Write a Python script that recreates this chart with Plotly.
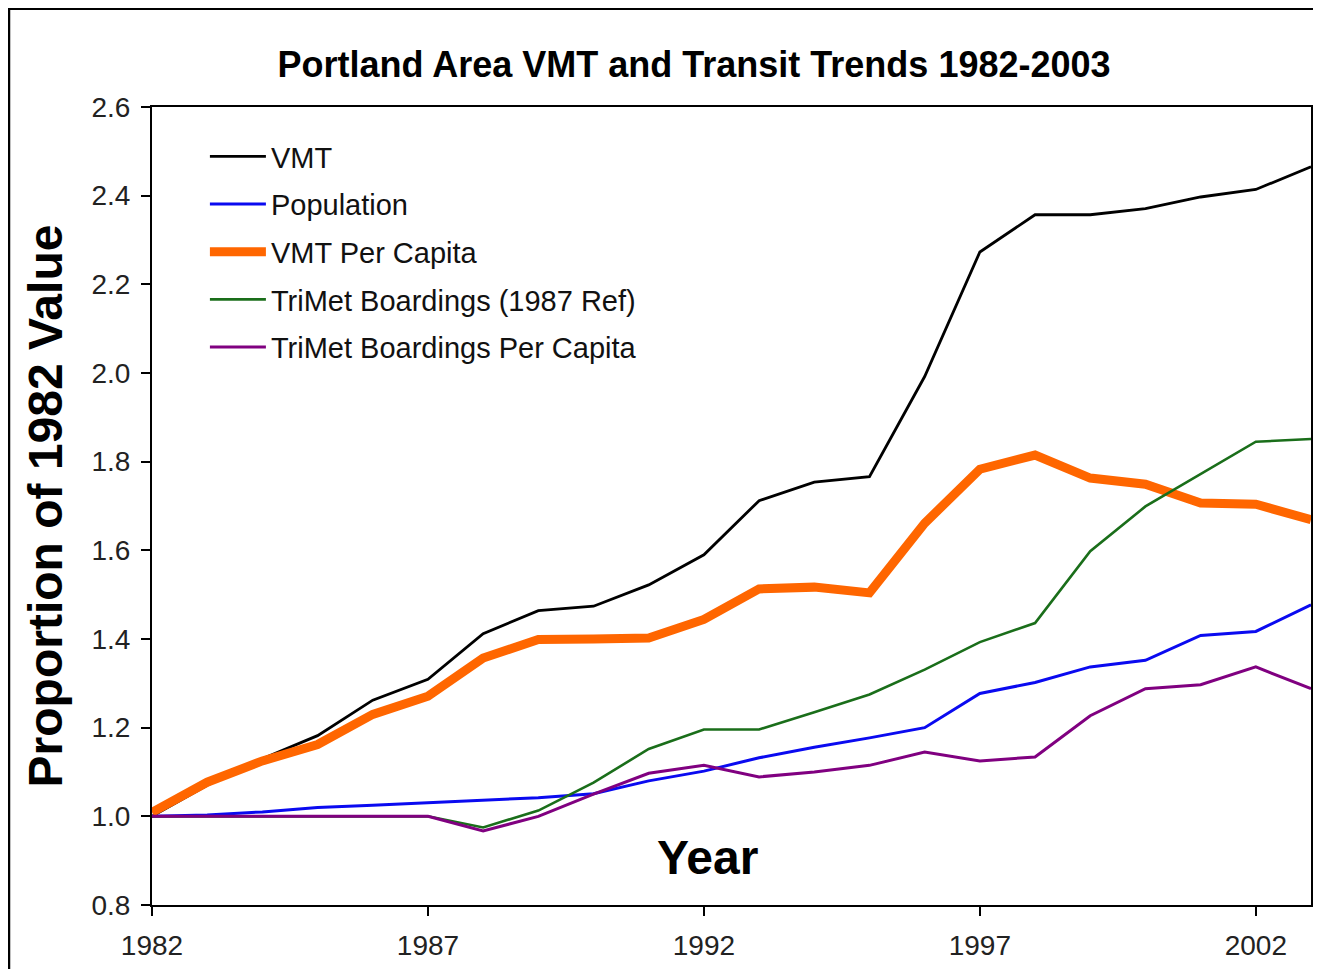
import plotly.graph_objects as go

years = list(range(1982, 2004))

vmt = [1.00, 1.07, 1.13, 1.182, 1.262, 1.309, 1.412, 1.464, 1.474, 1.522, 1.590,
       1.712, 1.754, 1.766, 1.992, 2.273, 2.357, 2.357, 2.371, 2.397, 2.414, 2.465]
population = [1.00, 1.003, 1.010, 1.020, 1.025, 1.031, 1.036, 1.042, 1.051, 1.080, 1.102,
              1.132, 1.156, 1.177, 1.200, 1.277, 1.302, 1.337, 1.352, 1.408, 1.417, 1.477]
vmt_per_capita = [1.009, 1.077, 1.125, 1.162, 1.230, 1.271, 1.357, 1.399, 1.400, 1.402, 1.444,
                  1.513, 1.517, 1.504, 1.661, 1.783, 1.815, 1.763, 1.749, 1.707, 1.704, 1.669]
trimet = [1.00, 1.00, 1.00, 1.00, 1.00, 1.00, 0.975, 1.013, 1.076, 1.152, 1.196,
          1.196, 1.235, 1.275, 1.331, 1.393, 1.436, 1.598, 1.699, 1.772, 1.845, 1.851]
trimet_per_capita = [1.00, 1.00, 1.00, 1.00, 1.00, 1.00, 0.967, 1.000, 1.050, 1.097, 1.115,
                     1.089, 1.100, 1.115, 1.145, 1.125, 1.134, 1.227, 1.288, 1.297, 1.337, 1.288]

series = [
    ("VMT", vmt, "#000000", 2.8),
    ("Population", population, "#0a0af0", 3),
    ("VMT Per Capita", vmt_per_capita, "#ff6600", 9),
    ("TriMet Boardings (1987 Ref)", trimet, "#1a6e1a", 2.6),
    ("TriMet Boardings Per Capita", trimet_per_capita, "#800080", 3),
]

x_ticks = [1982, 1987, 1992, 1997, 2002]
y_ticks = [0.8, 1.0, 1.2, 1.4, 1.6, 1.8, 2.0, 2.2, 2.4, 2.6]

# page is shown with an 8px body margin; figure coordinates = page - OFF
OFF = 8
W, H = 1321 - OFF, 969 - OFF
L, R, T, B = 152 - OFF, 8, 107 - OFF, 63
pw, ph = W - L - R, H - T - B

def px2x(page_px):
    return (page_px - OFF - L) / pw

def py2y(page_py):
    return (H - B - (page_py - OFF)) / ph

fig = go.Figure()
for i, (name, vals, color, width) in enumerate(series):
    fig.add_trace(go.Scatter(
        x=years, y=vals, mode="lines", name=name,
        line=dict(color=color, width=width),
        legendgroup=f"g{i}",
    ))

FONT = "Liberation Sans, Arial, sans-serif"

fig.update_layout(
    width=W, height=H,
    margin=dict(l=L, r=R, t=T, b=B),
    paper_bgcolor="#eef4f9",
    plot_bgcolor="rgba(0,0,0,0)",
    font=dict(family=FONT, color="#222222"),
    title=dict(
        text="<b>Portland Area VMT and Transit Trends 1982-2003</b>",
        x=px2x(695), xanchor="center", xref="paper",
        y=1 - (64 - OFF) / H, yanchor="middle",
        font=dict(size=36, color="#000000", family=FONT),
    ),
    showlegend=True,
    legend=dict(
        x=px2x(205), y=py2y(131), xanchor="left", yanchor="top",
        bgcolor="rgba(0,0,0,0)",
        font=dict(size=29, color="#111111", family=FONT),
        tracegroupgap=7,
        itemwidth=56,
    ),
    xaxis=dict(
        range=[1982, 2003],
        tickmode="array", tickvals=x_ticks,
        ticktext=[str(t) for t in x_ticks],
        showgrid=False, zeroline=False,
        showline=True, linecolor="#000000", linewidth=2, mirror=True,
        ticks="outside", ticklen=9, tickwidth=2, tickcolor="#000000",
        tickfont=dict(size=28, color="#222222", family=FONT),
        ticklabelstandoff=5,
    ),
    yaxis=dict(
        range=[0.8, 2.6],
        tickmode="array", tickvals=y_ticks,
        ticktext=[f"{v:.1f}" for v in y_ticks],
        showgrid=False, zeroline=False,
        showline=True, linecolor="#000000", linewidth=2, mirror=True,
        ticks="outside", ticklen=9, tickwidth=2, tickcolor="#000000",
        tickfont=dict(size=28, color="#222222", family=FONT),
        ticklabelstandoff=5,
        title=dict(text="<b>Proportion of 1982 Value</b>", standoff=14,
                   font=dict(size=48, color="#000000", family=FONT)),
    ),
    shapes=[dict(
        type="rect", xref="paper", yref="paper", layer="below",
        x0=px2x(8.5), x1=px2x(1321 + 20), y0=py2y(969 + 20), y1=py2y(8.5),
        line=dict(color="#000000", width=3), fillcolor="#ffffff",
    )],
    annotations=[dict(
        text="<b>Year</b>", xref="paper", yref="paper",
        x=px2x(708), y=py2y(858), xanchor="center", yanchor="middle",
        showarrow=False, font=dict(size=48, color="#000000", family=FONT),
    )],
)

fig.write_html("out.html")
